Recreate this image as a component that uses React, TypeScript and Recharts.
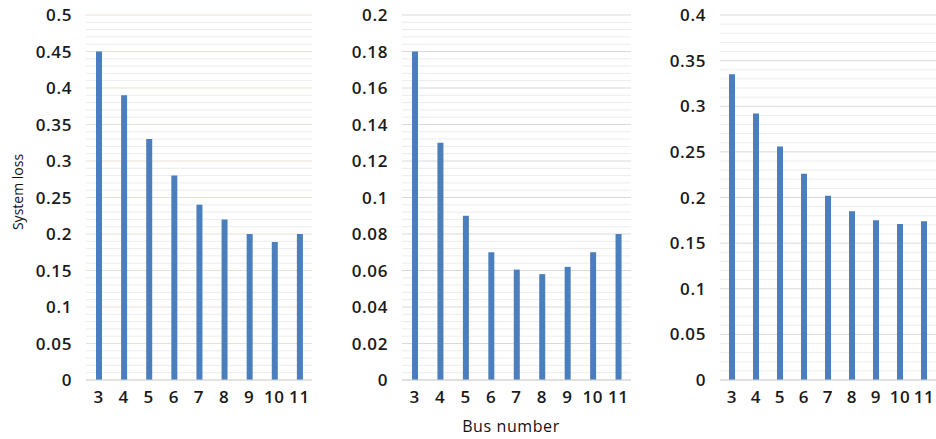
import React from 'react';
import { BarChart, Bar, XAxis, YAxis, CartesianGrid } from 'recharts';

const busNumbers = ['3', '4', '5', '6', '7', '8', '9', '10', '11'];
const lossA = [0.45, 0.39, 0.33, 0.28, 0.24, 0.22, 0.2, 0.189, 0.2];
const lossB = [0.18, 0.13, 0.09, 0.07, 0.0605, 0.058, 0.062, 0.07, 0.08];
const lossC = [0.335, 0.292, 0.256, 0.226, 0.202, 0.185, 0.175, 0.171, 0.174];

const ticksA = [0, 0.05, 0.1, 0.15, 0.2, 0.25, 0.3, 0.35, 0.4, 0.45, 0.5];
const ticksB = [0, 0.02, 0.04, 0.06, 0.08, 0.1, 0.12, 0.14, 0.16, 0.18, 0.2];
const ticksC = [0, 0.05, 0.1, 0.15, 0.2, 0.25, 0.3, 0.35, 0.4];

const FONT = '"Open Sans", sans-serif';
const BLUE = '#4a7ebd';
const tickStyle = { fill: '#1a1a1a', fontSize: 17, fontWeight: 600, fontFamily: FONT, letterSpacing: 0.6 };

// 4 minor lines between each pair of major ticks
const minorsOf = (ticks: number[]) => {
    const out: number[] = [];
    for (let i = 0; i < ticks.length - 1; i++) {
        const step = (ticks[i + 1] - ticks[i]) / 5;
        for (let k = 1; k < 5; k++) out.push(ticks[i] + step * k);
    }
    return out;
};

type PanelProps = {
    values: number[];
    ticks: number[];
    left: number;
    width: number;
    axisWidth: number;
    majorColor: string;
};

const Panel = ({ values, ticks, left, width, axisWidth, majorColor }: PanelProps) => {
    const data = busNumbers.map((b, i) => ({ bus: b, loss: values[i] }));
    const max = ticks[ticks.length - 1];
    return (
        <div style={{ position: 'absolute', left, top: 0 }}>
            <BarChart
                width={width}
                height={439}
                data={data}
                margin={{ top: 15, right: 0, bottom: 29, left: 0 }}
            >
                <CartesianGrid
                    vertical={false}
                    horizontalValues={minorsOf(ticks)}
                    stroke='#ececec'
                />
                <CartesianGrid vertical={false} stroke={majorColor} />
                <XAxis
                    dataKey='bus'
                    height={30}
                    tickLine={false}
                    tickSize={0}
                    tickMargin={11}
                    stroke='#d4d4d4'
                    tick={tickStyle}
                />
                <YAxis
                    domain={[0, max]}
                    ticks={ticks}
                    width={axisWidth}
                    axisLine={false}
                    tickLine={false}
                    tickSize={0}
                    tickMargin={14}
                    interval={0}
                    tick={tickStyle}
                />
                <Bar dataKey='loss' fill={BLUE} barSize={6} isAnimationActive={false} />
            </BarChart>
        </div>
    );
};

const App = () => {
    return (
        <div
            style={{
                position: 'absolute',
                left: 0,
                top: 0,
                width: 936,
                height: 439,
                background: '#fff',
                overflow: 'hidden',
                fontFamily: FONT,
            }}
        >
            <Panel values={lossA} ticks={ticksA} left={0} width={312} axisWidth={86} majorColor='#e6e2d2' />
            <Panel values={lossB} ticks={ticksB} left={316} width={315} axisWidth={86} majorColor='#d9d9d9' />
            <Panel values={lossC} ticks={ticksC} left={636} width={300} axisWidth={84} majorColor='#d9d9d9' />
            <div
                style={{
                    position: 'absolute',
                    left: 17,
                    top: 192,
                    transform: 'translate(-50%, -50%) rotate(-90deg)',
                    fontSize: 14,
                    color: '#111',
                    whiteSpace: 'nowrap',
                }}
            >
                System loss
            </div>
            <div
                style={{
                    position: 'absolute',
                    left: 511,
                    top: 426,
                    transform: 'translate(-50%, -50%)',
                    fontSize: 16,
                    color: '#111',
                    letterSpacing: 0.6,
                    whiteSpace: 'nowrap',
                }}
            >
                Bus number
            </div>
        </div>
    );
};

export default App;
